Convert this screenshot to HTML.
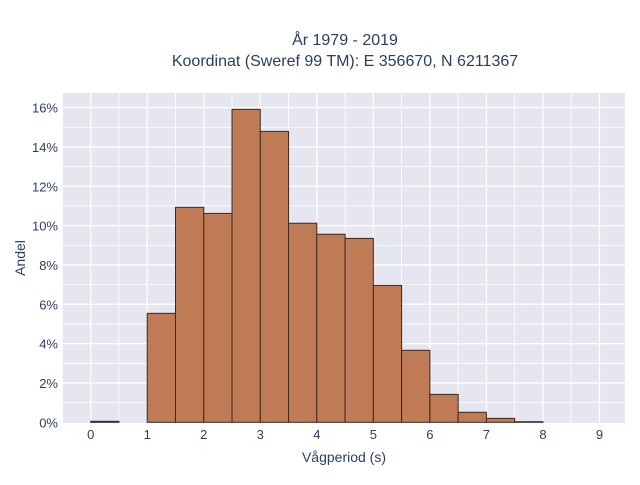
<!DOCTYPE html>
<html><head><meta charset="utf-8"><style>
body{margin:0;background:#fff;font-family:"Liberation Sans",sans-serif}
svg text{font-family:"Liberation Sans",sans-serif;fill:#2a3f5f}
</style></head><body>
<svg id="c" width="640" height="480">
<rect x="0" y="0" width="640" height="480" fill="#fff"/>
<text x="345" y="45" text-anchor="middle" font-size="16" fill="#333">År 1979 - 2019</text>
<text x="345" y="66" text-anchor="middle" font-size="16" fill="#333">Koordinat (Sweref 99 TM): E 356670, N 6211367</text>
<rect x="62" y="93" width="563" height="330" fill="#e5e6ef"/>
<g id="grid"></g><g id="bars"></g><g id="axes"></g>
<text x="344" y="462" text-anchor="middle" font-size="14" fill="#333">Vågperiod (s)</text>
<text transform="translate(25,258) rotate(-90)" text-anchor="middle" font-size="14" fill="#333">Andel</text>
</svg>
<script>
const binStarts=[0,0.5,1,1.5,2,2.5,3,3.5,4,4.5,5,5.5,6,6.5,7,7.5];
const shares=[0.05,0,5.54,10.93,10.62,15.91,14.79,10.12,9.56,9.35,6.96,3.66,1.42,0.51,0.2,0.03];
const xTicks=[0,1,2,3,4,5,6,7,8,9];
const yTicks=[0,2,4,6,8,10,12,14,16];
const binWidth=0.5;
const NS="http://www.w3.org/2000/svg";
const X=v=>90.7+v*56.53, Y=v=>422.3-v*19.67;
function mk(t,a,p){const e=document.createElementNS(NS,t);for(const k in a)e.setAttribute(k,a[k]);p.appendChild(e);return e;}
const g=document.getElementById('grid'),b=document.getElementById('bars'),ax=document.getElementById('axes');
for(let v=-0.5;v<=9.5;v+=0.5){const x=X(v);if(x<62||x>625)continue;
 const l=mk('line',{x1:x,x2:x,y1:93,y2:423,stroke:'#fff','stroke-width':Number.isInteger(v)?1.3:0.8},g);
 
 }
for(let v=1;v<=16.5;v+=1){const y=Y(v);if(y<93)continue;
 const l=mk('line',{x1:62,x2:625,y1:y,y2:y,stroke:'#fff','stroke-width':v%2==0?1.3:0.8},g);
 
 }
binStarts.forEach((s,i)=>{if(shares[i]<=0)return;
 const r=mk('rect',{x:X(s),y:Y(shares[i]),width:X(s+binWidth)-X(s),height:Y(0)-Y(shares[i]),fill:'#bf7b56',stroke:'#3a2a22','stroke-width':1},b);
 
 });
xTicks.forEach(v=>{const t=mk('text',{x:X(v),y:439,'text-anchor':'middle','font-size':13,fill:'#333'},ax);t.textContent=v;
 
 });
yTicks.forEach(v=>{const t=mk('text',{x:58,y:Y(v)+5,'text-anchor':'end','font-size':13,fill:'#333'},ax);t.textContent=v+'%';
 
 });
</script>
</body></html>
